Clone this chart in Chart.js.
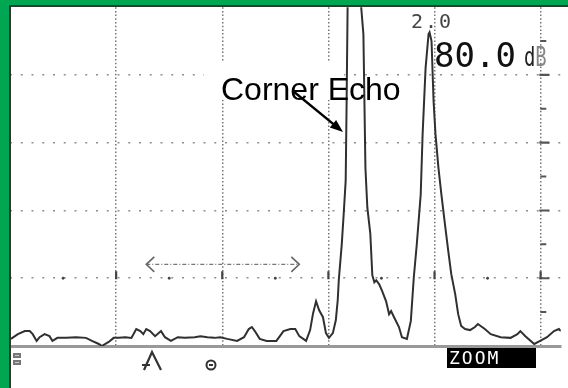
<!DOCTYPE html>
<html>
<head>
<meta charset="utf-8">
<script src="https://cdn.jsdelivr.net/npm/chart.js@4.4.1/dist/chart.umd.min.js"></script>
<style>
  html, body { margin: 0; padding: 0; background: #fff; }
  canvas { display: block; }
</style>
</head>
<body>
<canvas id="scope" width="568" height="388"></canvas>
<script>
// A-scan trace: x in screen units (10 = one division), y in % of full screen height
const echoPos = [
  0.09, 0.74, 1.40, 1.86, 2.14, 2.51, 2.79, 3.26, 3.72, 4.00, 4.47, 5.30, 6.23, 7.16, 7.72,
  8.37, 8.65, 9.30, 9.77, 10.23, 10.88, 11.44, 11.90, 12.28, 12.56, 12.84, 13.20, 13.67, 14.23,
  14.60, 15.16, 15.81, 16.47, 17.40, 17.95, 18.60, 19.26, 19.81, 20.47, 21.40, 22.05, 22.50,
  22.79, 23.07, 23.53, 24.19, 25.10, 25.77, 26.42, 26.88, 27.26, 27.90, 28.28, 28.56, 28.84,
  29.12, 29.49, 29.77, 30.05, 30.42, 30.70, 30.88, 30.98, 31.26, 31.44, 31.63, 31.72, 31.81,
  31.90, 32.93, 33.10, 33.30, 33.49, 33.67, 33.95, 34.14, 34.33, 34.51, 34.79, 35.07, 35.44,
  35.72, 35.91, 36.19, 36.65, 36.93, 37.40, 37.77, 38.05, 38.33, 38.70, 38.88, 39.16, 39.44,
  39.53, 39.72, 39.91, 40.09, 40.37, 40.65, 41.02, 41.30, 41.58, 41.95, 42.23, 42.51, 42.88,
  43.35, 43.81, 44.09, 44.74, 45.30, 46.23, 47.16, 47.81, 48.09, 48.56, 49.40, 49.95, 50.60,
  51.26, 51.72, 51.90
];
const echoAmp = [
  2.1, 3.5, 4.4, 4.4, 3.5, 1.5, 2.6, 3.5, 2.9, 1.5, 2.4, 2.4, 2.6, 2.4, 1.5,
  0.6, 0.0, 1.2, 2.4, 2.4, 2.6, 2.4, 5.0, 4.4, 3.5, 5.0, 4.4, 2.9, 4.4,
  2.6, 1.5, 2.6, 2.4, 2.6, 2.9, 2.6, 2.4, 2.6, 2.1, 1.5, 2.6, 5.0,
  5.6, 4.4, 2.1, 1.5, 1.5, 4.4, 5.0, 5.0, 2.9, 1.5, 4.7, 9.7, 13.2,
  10.6, 8.5, 3.8, 2.4, 3.8, 7.6, 13.5, 19.4, 30.0, 38.8, 48.8, 72.4, 99.7,
  112, 112, 99.7, 92.0, 52.6, 40.9, 33.2, 20.9, 18.8, 19.4, 18.2, 16.2, 13.2,
  9.4, 10.3, 8.5, 5.6, 2.6, 2.1, 7.4, 20.3, 30.0, 44.7, 62.6, 82.1, 92.1,
  92.6, 90.0, 72.4, 62.6, 52.6, 44.7, 35.0, 27.9, 21.2, 15.3, 9.4, 5.9, 5.0,
  4.7, 5.6, 6.5, 5.0, 3.5, 2.6, 2.4, 3.5, 4.4, 2.9, 0.6, 1.5, 2.6,
  4.4, 5.0, 4.4
];

// dashed range marker
const rangePos = [12.84, 27.26];
const rangeAmp = [24.1, 24.1];

// graduation marks on the 20% line and on the right grid line
const halfDivMarks = [5, 15, 25, 35, 45];
const fullDivMarks = [10, 20, 30, 40, 50];
const markLevel = 20;
const majorTickLevels = [80, 60, 40, 20];
const minorTickLevels = [90, 70, 50, 30, 10];
const sideTickPos = 50.3;

const labelText = "Corner Echo";
const rangeText = "2.0";
const gainText = "80.0";
const zoomText = "ZOOM";

const GREEN = '#00a651';

const overlay = {
  id: 'overlay',
  beforeDraw(chart) {
    const ctx = chart.ctx;
    ctx.save();
    ctx.fillStyle = '#fff';
    ctx.fillRect(0, 0, chart.width, chart.height);
    ctx.restore();
  },
  beforeDatasetsDraw(chart) {
    // the label box hides the grid behind it
    const ctx = chart.ctx;
    ctx.save();
    ctx.fillStyle = '#fff';
    ctx.fillRect(204, 61, 140, 39);
    ctx.restore();
  },
  afterDatasetsDraw(chart) {
    const {ctx, scales: {x, y}} = chart;
    ctx.save();

    // heads of the range marker
    const lx = x.getPixelForValue(rangePos[0]);
    const rx = x.getPixelForValue(rangePos[1]);
    const ry = y.getPixelForValue(rangeAmp[0]);
    ctx.strokeStyle = '#666';
    ctx.lineWidth = 1.6;
    ctx.beginPath();
    ctx.moveTo(lx + 8, ry - 7.5); ctx.lineTo(lx, ry); ctx.lineTo(lx + 8, ry + 7.5);
    ctx.moveTo(rx - 8, ry - 7.5); ctx.lineTo(rx, ry); ctx.lineTo(rx - 8, ry + 7.5);
    ctx.stroke();

    // label and its arrow
    ctx.fillStyle = '#000';
    ctx.font = '32px "Liberation Sans", Arial, sans-serif';
    ctx.textBaseline = 'alphabetic';
    ctx.fillText(labelText, 221, 100);

    const ax0 = 293, ay0 = 91, ax1 = 343, ay1 = 132;
    const ang = Math.atan2(ay1 - ay0, ax1 - ax0);
    ctx.strokeStyle = '#000';
    ctx.lineWidth = 2.4;
    ctx.beginPath();
    ctx.moveTo(ax0, ay0);
    ctx.lineTo(ax1 - 10 * Math.cos(ang), ay1 - 10 * Math.sin(ang));
    ctx.stroke();
    ctx.beginPath();
    ctx.moveTo(ax1, ay1);
    ctx.lineTo(ax1 - 13 * Math.cos(ang) + 5 * Math.sin(ang), ay1 - 13 * Math.sin(ang) - 5 * Math.cos(ang));
    ctx.lineTo(ax1 - 13 * Math.cos(ang) - 5 * Math.sin(ang), ay1 - 13 * Math.sin(ang) + 5 * Math.cos(ang));
    ctx.closePath();
    ctx.fill();

    // readouts
    ctx.fillStyle = '#444';
    ctx.font = '20px "DejaVu Sans Mono", monospace';
    ctx.letterSpacing = '2px';
    ctx.fillText(rangeText, 411, 28);
    ctx.letterSpacing = '0px';

    ctx.fillStyle = '#111';
    ctx.font = '34px "DejaVu Sans Mono", monospace';
    ctx.fillText(gainText, 434, 67);

    ctx.font = '27px "DejaVu Sans Mono", monospace';
    ctx.save();
    ctx.translate(524, 66);
    ctx.scale(0.7, 1);
    ctx.fillStyle = '#222';
    ctx.fillText('d', 0, 0);
    ctx.fillStyle = '#888';
    ctx.fillText('B', 16, 0);
    ctx.restore();

    ctx.restore();
  },
  afterDraw(chart) {
    const ctx = chart.ctx;
    ctx.save();

    // status line under the screen
    ctx.fillStyle = '#000';
    ctx.fillRect(447, 348, 89, 20);
    ctx.fillStyle = '#fff';
    ctx.font = '18px "DejaVu Sans Mono", monospace';
    ctx.letterSpacing = '2px';
    ctx.textBaseline = 'alphabetic';
    ctx.fillText(zoomText, 449, 364);
    ctx.letterSpacing = '0px';

    ctx.fillStyle = '#777';
    ctx.fillRect(13, 353, 8, 5);
    ctx.fillRect(13, 360, 8, 5);
    ctx.fillStyle = '#ccc';
    ctx.fillRect(15, 355, 4, 1);
    ctx.fillRect(15, 362, 4, 1);

    ctx.strokeStyle = '#333';
    ctx.lineWidth = 2.2;
    ctx.beginPath();
    ctx.moveTo(144, 370); ctx.lineTo(152, 352); ctx.lineTo(161, 370);
    ctx.moveTo(142, 365); ctx.lineTo(150, 365);
    ctx.stroke();

    ctx.lineWidth = 2;
    ctx.beginPath();
    ctx.arc(211, 365, 4.5, 0, Math.PI * 2);
    ctx.stroke();
    ctx.fillStyle = '#333';
    ctx.fillRect(209, 364, 4, 2);

    // green frame on the left and top
    ctx.fillStyle = GREEN;
    ctx.fillRect(0, 0, chart.width, 5);
    ctx.fillRect(0, 0, 9, chart.height);
    ctx.fillStyle = '#333';
    ctx.fillRect(9, 5, chart.width - 9, 2);
    ctx.fillRect(9, 5, 2, chart.height - 5);
    ctx.restore();
  }
};

const toPoints = (xs, ys) => xs.map((v, i) => ({x: v, y: ys[i]}));

new Chart(document.getElementById('scope'), {
  type: 'line',
  data: {
    datasets: [
      {
        data: toPoints(echoPos, echoAmp),
        borderColor: '#303030',
        borderWidth: 2,
        pointRadius: 0,
        tension: 0,
        order: 1
      },
      {
        data: toPoints(rangePos, rangeAmp),
        borderColor: '#777',
        borderWidth: 1.4,
        borderDash: [4, 2, 1, 2],
        pointRadius: 0,
        order: 2
      },
      {
        data: halfDivMarks.map(v => ({x: v, y: markLevel})),
        showLine: false,
        pointStyle: 'circle',
        pointRadius: 1.4,
        pointBackgroundColor: '#444',
        pointBorderWidth: 0,
        order: 3
      },
      {
        data: fullDivMarks.map(v => ({x: v, y: markLevel + 0.9})),
        showLine: false,
        pointStyle: 'line',
        pointRotation: 90,
        pointRadius: 4,
        pointBorderColor: '#444',
        pointBorderWidth: 2.2,
        order: 3
      },
      {
        data: majorTickLevels.map(v => ({x: sideTickPos + 0.05, y: v})),
        showLine: false,
        pointStyle: 'line',
        pointRadius: 5,
        pointBorderColor: '#555',
        pointBorderWidth: 2.2,
        order: 3
      },
      {
        data: minorTickLevels.map(v => ({x: sideTickPos - 0.05, y: v})),
        showLine: false,
        pointStyle: 'line',
        pointRadius: 3,
        pointBorderColor: '#555',
        pointBorderWidth: 2,
        order: 3
      }
    ]
  },
  options: {
    responsive: false,
    devicePixelRatio: 1,
    animation: false,
    layout: { padding: { left: 10, top: 6, right: 0, bottom: 42 } },
    plugins: {
      legend: { display: false },
      tooltip: { enabled: false }
    },
    scales: {
      x: {
        type: 'linear',
        min: 0,
        max: 51.9,
        ticks: { display: false, stepSize: 10, includeBounds: false },
        grid: {
          drawTicks: false,
          lineWidth: 1.5,
          color: ctx => ctx.tick && ctx.tick.value === 0 ? 'rgba(0,0,0,0)' : '#767676'
        },
        border: { display: true, color: '#999', width: 3, dash: [1.5, 2.2] }
      },
      y: {
        min: 0,
        max: 100,
        ticks: { display: false, stepSize: 20 },
        grid: {
          drawTicks: false,
          lineWidth: 1.5,
          color: ctx => ctx.tick && (ctx.tick.value === 0 || ctx.tick.value === 100) ? 'rgba(0,0,0,0)' : '#909090'
        },
        border: { display: false, dash: [2, 8.75] }
      }
    }
  },
  plugins: [overlay]
});
</script>
</body>
</html>
